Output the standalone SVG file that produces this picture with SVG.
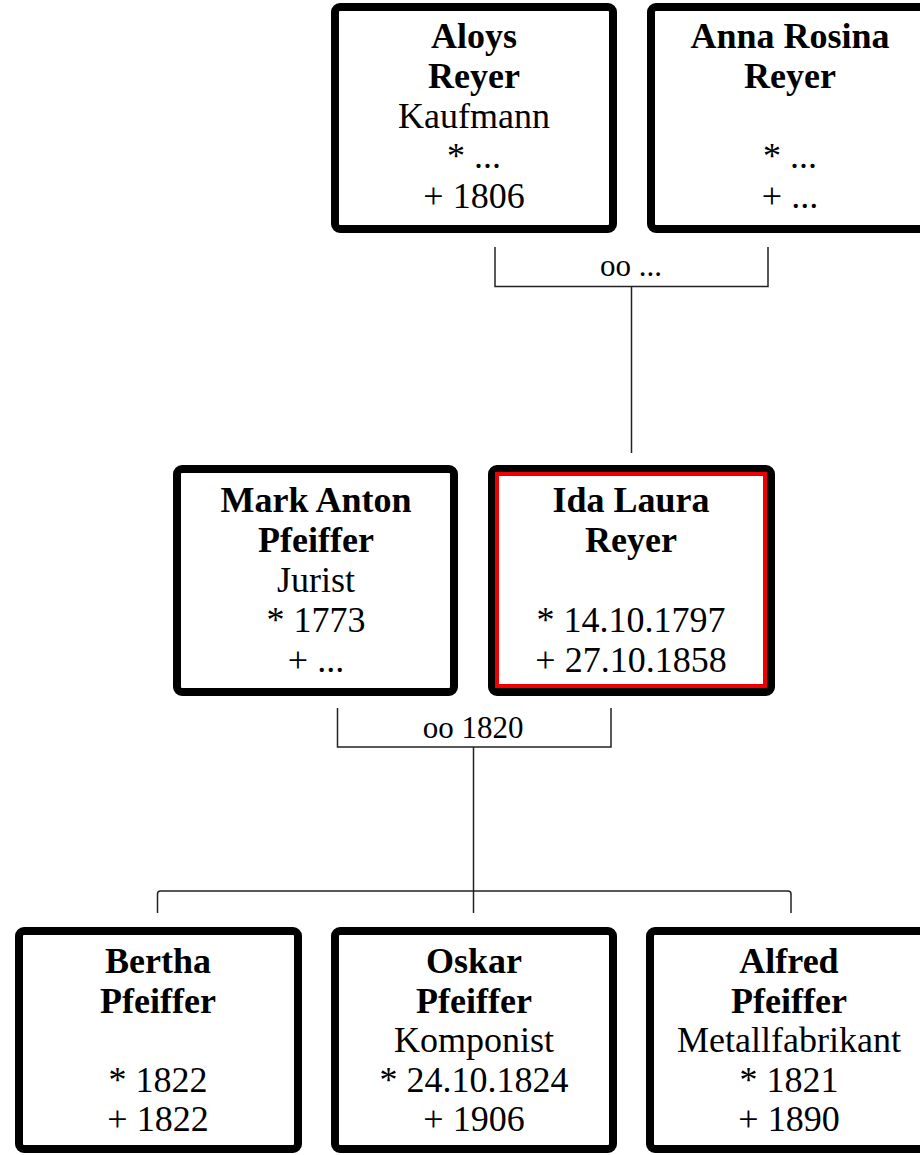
<svg xmlns="http://www.w3.org/2000/svg" width="920" height="1155" viewBox="0 0 920 1155">
<style>
.box{fill:#fff;stroke:#000;stroke-width:8}
.sel{fill:none;stroke:#e00;stroke-width:4}
text{font-family:"Liberation Serif","Times New Roman",serif;font-size:36px;fill:#000;text-anchor:middle}
.b{font-weight:bold}
.lbl{font-size:31px}
.con{fill:none;stroke:#222;stroke-width:1.5}
</style>
<rect width="920" height="1155" fill="#fff"/>
<g id="connectors">
<path class="con" d="M495,247 V286.5 H768 V247"/>
<path class="con" d="M631.5,286.5 V453"/>
<text class="lbl" x="631" y="276">oo ...</text>
<path class="con" d="M337.5,708 V747 H611 V708"/>
<path class="con" d="M473.5,747 V913"/>
<text class="lbl" x="473" y="738">oo 1820</text>
<path class="con" d="M157.5,913 V894 Q157.5,891 160.5,891 H788 Q791,891 791,894 V913"/>
</g>
<g id="aloys">
<rect class="box" x="335" y="7" width="278" height="222" rx="5"/>
<text class="b" x="474" y="48">Aloys</text>
<text class="b" x="474" y="88">Reyer</text>
<text x="474" y="128">Kaufmann</text>
<text x="474" y="168">* ...</text>
<text x="474" y="208">+ 1806</text>
</g>
<g id="anna">
<rect class="box" x="651" y="7" width="278" height="222" rx="5"/>
<text class="b" x="790" y="48">Anna Rosina</text>
<text class="b" x="790" y="88">Reyer</text>
<text x="790" y="168">* ...</text>
<text x="790" y="208">+ ...</text>
</g>
<g id="mark">
<rect class="box" x="177" y="469" width="277" height="223" rx="5"/>
<text class="b" x="316" y="512">Mark Anton</text>
<text class="b" x="316" y="552">Pfeiffer</text>
<text x="316" y="592">Jurist</text>
<text x="316" y="632">* 1773</text>
<text x="316" y="672">+ ...</text>
</g>
<g id="ida">
<rect class="box" x="492" y="469" width="279" height="223" rx="5"/>
<rect class="sel" x="497" y="474" width="268" height="212"/>
<text class="b" x="631" y="512">Ida Laura</text>
<text class="b" x="631" y="552">Reyer</text>
<text x="631" y="632">* 14.10.1797</text>
<text x="631" y="672">+ 27.10.1858</text>
</g>
<g id="bertha">
<rect class="box" x="19" y="931" width="279" height="218" rx="5"/>
<text class="b" x="158" y="973">Bertha</text>
<text class="b" x="158" y="1013">Pfeiffer</text>
<text x="158" y="1092">* 1822</text>
<text x="158" y="1131">+ 1822</text>
</g>
<g id="oskar">
<rect class="box" x="335" y="931" width="278" height="218" rx="5"/>
<text class="b" x="474" y="973">Oskar</text>
<text class="b" x="474" y="1013">Pfeiffer</text>
<text x="474" y="1052">Komponist</text>
<text x="474" y="1092">* 24.10.1824</text>
<text x="474" y="1131">+ 1906</text>
</g>
<g id="alfred">
<rect class="box" x="650" y="931" width="278" height="218" rx="5"/>
<text class="b" x="789" y="973">Alfred</text>
<text class="b" x="789" y="1013">Pfeiffer</text>
<text x="789" y="1052">Metallfabrikant</text>
<text x="789" y="1092">* 1821</text>
<text x="789" y="1131">+ 1890</text>
</g>
</svg>
